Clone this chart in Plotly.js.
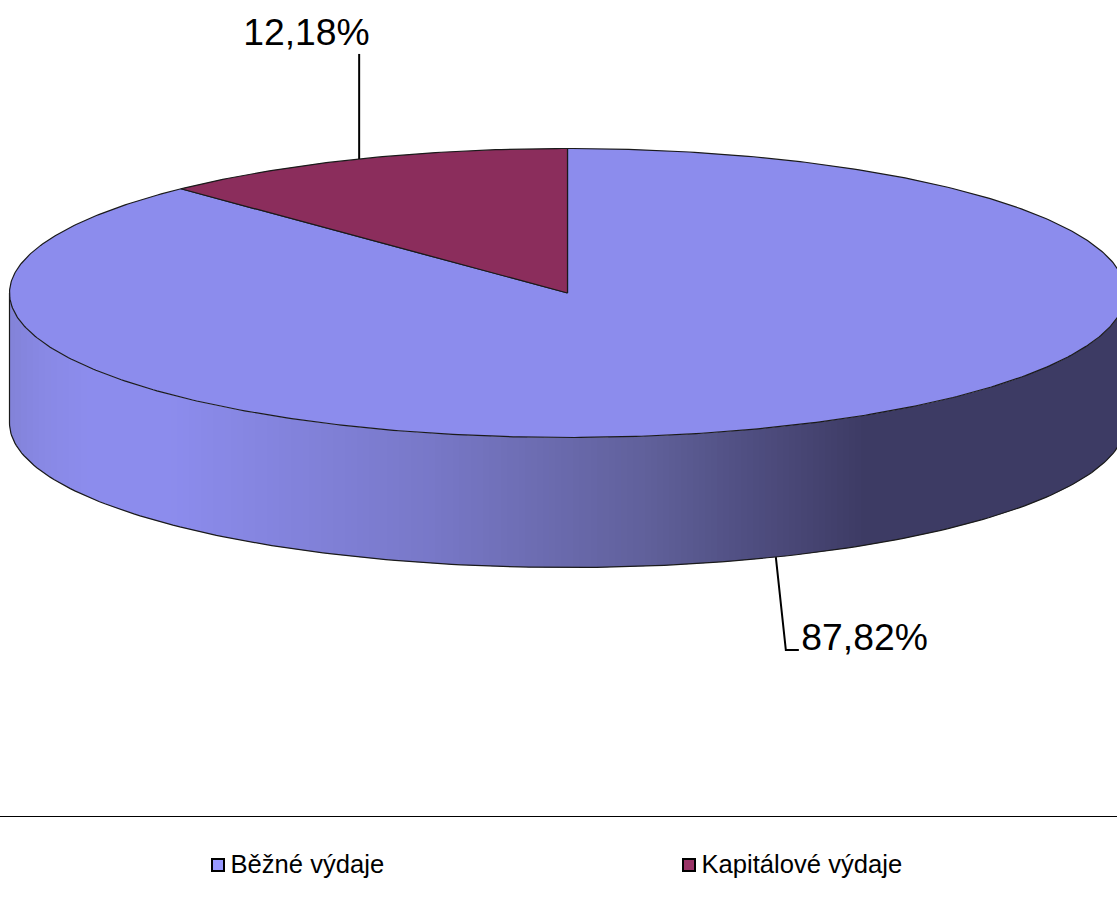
<!DOCTYPE html>
<html><head><meta charset="utf-8">
<script src="https://cdn.plot.ly/plotly-3.0.1.min.js"></script>
<style>html,body{margin:0;padding:0;background:#fff;overflow:hidden}#c{width:1117px;height:904px}</style>
</head><body><div id="c"></div>
<script>
const categories = ['Běžné výdaje', 'Kapitálové výdaje'];
const shares = [87.82, 12.18];
const topColors = ['#8C8CED', '#8B2D5C'];
const legendColors = ['#9999FF', '#993366'];
const sideStopsX = [10, 40, 90, 170, 430, 640, 865, 1130];
const sideStopsC = [[131,131,216],[136,136,228],[140,140,237],[140,140,237],[120,120,200],[97,97,156],[61,59,100],[61,59,100]];

const W = 1117, H = 904, cx = 567.5, cy = 293, rx = 558, ry = 144.5, depth = 130;
const total = shares.reduce((a, b) => a + b, 0);
const px = a => cx + rx * Math.sin(a);
const py = a => cy - ry * Math.cos(a);
const angleOf = s => s / total * 2 * Math.PI;
const traces = [];
const ln = '#1a1a1a';

function sideColor(x) {
  let i = 0;
  while (i < sideStopsX.length - 2 && x > sideStopsX[i + 1]) i++;
  const t = Math.min(1, Math.max(0, (x - sideStopsX[i]) / (sideStopsX[i + 1] - sideStopsX[i])));
  const c = sideStopsC[i].map((v, k) => Math.round(v + (sideStopsC[i + 1][k] - v) * t));
  return `rgb(${c.join(',')})`;
}
// side wall: pixel-aligned vertical bands between the left and right extremes of the ellipse
const bandW = 6;
const bandStart = Math.floor(cx - rx);
const low = x => cy + depth + ry * Math.sqrt(Math.max(0, 1 - ((x - cx) / rx) ** 2));
const up = x => cy + ry * Math.sqrt(Math.max(0, 1 - ((x - cx) / rx) ** 2));
for (let x0 = bandStart; x0 < W; x0 += bandW) {
  const x1 = x0 + bandW;
  const xs = [], ys = [];
  for (let k = 0; k <= 4; k++) { const x = x0 + (x1 - x0) * k / 4; xs.push(x); ys.push(up(x)); }
  for (let k = 4; k >= 0; k--) { const x = x0 + (x1 - x0) * k / 4; xs.push(x); ys.push(low(x)); }
  traces.push({type:'scatter', mode:'none', x:xs, y:ys, fill:'toself', fillcolor:sideColor((x0 + x1) / 2),
    hoverinfo:'skip', showlegend:false});
}
// outline of the wall
(function () {
  const xs = [], ys = [];
  for (let k = 0; k <= 180; k++) { const a = Math.PI / 2 + Math.PI * k / 180; xs.push(px(a)); ys.push(py(a) + depth); }
  xs.unshift(px(Math.PI / 2)); ys.unshift(py(Math.PI / 2));
  xs.push(px(-Math.PI / 2)); ys.push(py(-Math.PI / 2));
  traces.push({type:'scatter', mode:'lines', x:xs, y:ys, line:{color:ln, width:1.2}, hoverinfo:'skip', showlegend:false});
})();
// top faces: first slice clockwise from 12 o'clock, second closes the circle
let start = 0;
const mids = [];
shares.forEach((s, i) => {
  const sweep = angleOf(s), n = Math.ceil(sweep / 0.01);
  const xs = [cx], ys = [cy];
  for (let k = 0; k <= n; k++) { const a = start + sweep * k / n; xs.push(px(a)); ys.push(py(a)); }
  xs.push(cx); ys.push(cy);
  traces.push({type:'scatter', mode:'lines', x:xs, y:ys, fill:'toself', fillcolor:topColors[i],
    line:{color:ln, width:1.2}, hoverinfo:'skip', showlegend:false, name:categories[i]});
  mids.push(start + sweep / 2);
  start += sweep;
});
// leader lines and value labels, anchored at the middle of each slice
const fmt = s => s.toFixed(2).replace('.', ',') + '%';
const m0 = mids[0], m1 = mids[1];
const e0 = [px(m0), py(m0) + depth], e1 = [px(m1), py(m1)];
traces.push({type:'scatter', mode:'lines', x:[e0[0], e0[0] + 10, e0[0] + 23], y:[e0[1], e0[1] + 93, e0[1] + 93],
  line:{color:'#000', width:2}, hoverinfo:'skip', showlegend:false});
traces.push({type:'scatter', mode:'lines', x:[e1[0], e1[0]], y:[e1[1], e1[1] - 105],
  line:{color:'#000', width:2}, hoverinfo:'skip', showlegend:false});
traces.push({type:'scatter', mode:'text', x:[e0[0] + 25.5, e1[0] + 10.5], y:[e0[1] + 84, e1[1] - 123],
  text:[fmt(shares[0]), fmt(shares[1])], textposition:['middle right','middle left'],
  textfont:{family:'Liberation Sans, Arial, sans-serif', size:37.3, color:'#000'}, hoverinfo:'skip', showlegend:false});
// legend row
const legendX = [218, 689], legendY = [865, 865];
const legendTextX = legendX.map(x => x + 12.5);
traces.push({type:'scatter', mode:'markers', x:legendX, y:legendY,
  marker:{symbol:'square', size:12, color:legendColors, line:{color:'#000', width:2}},
  hoverinfo:'skip', showlegend:false});
traces.push({type:'scatter', mode:'text', x:legendTextX, y:legendY.map(y => y + 1.5), text:categories, textposition:'middle right',
  textfont:{family:'Liberation Sans, Arial, sans-serif', size:25.6, color:'#000'}, hoverinfo:'skip', showlegend:false});

const layout = {
  width:W, height:H, margin:{l:0,r:0,t:0,b:0}, paper_bgcolor:'#fff', plot_bgcolor:'#fff', showlegend:false,
  xaxis:{range:[0,W], visible:false, fixedrange:true},
  yaxis:{range:[H,0], visible:false, fixedrange:true},
  shapes:[{type:'line', xref:'paper', yref:'y', x0:0, x1:1, y0:816.5, y1:816.5, line:{color:'#000', width:1}}]
};
Plotly.newPlot('c', traces, layout, {displayModeBar:false, staticPlot:true});
</script></body></html>
